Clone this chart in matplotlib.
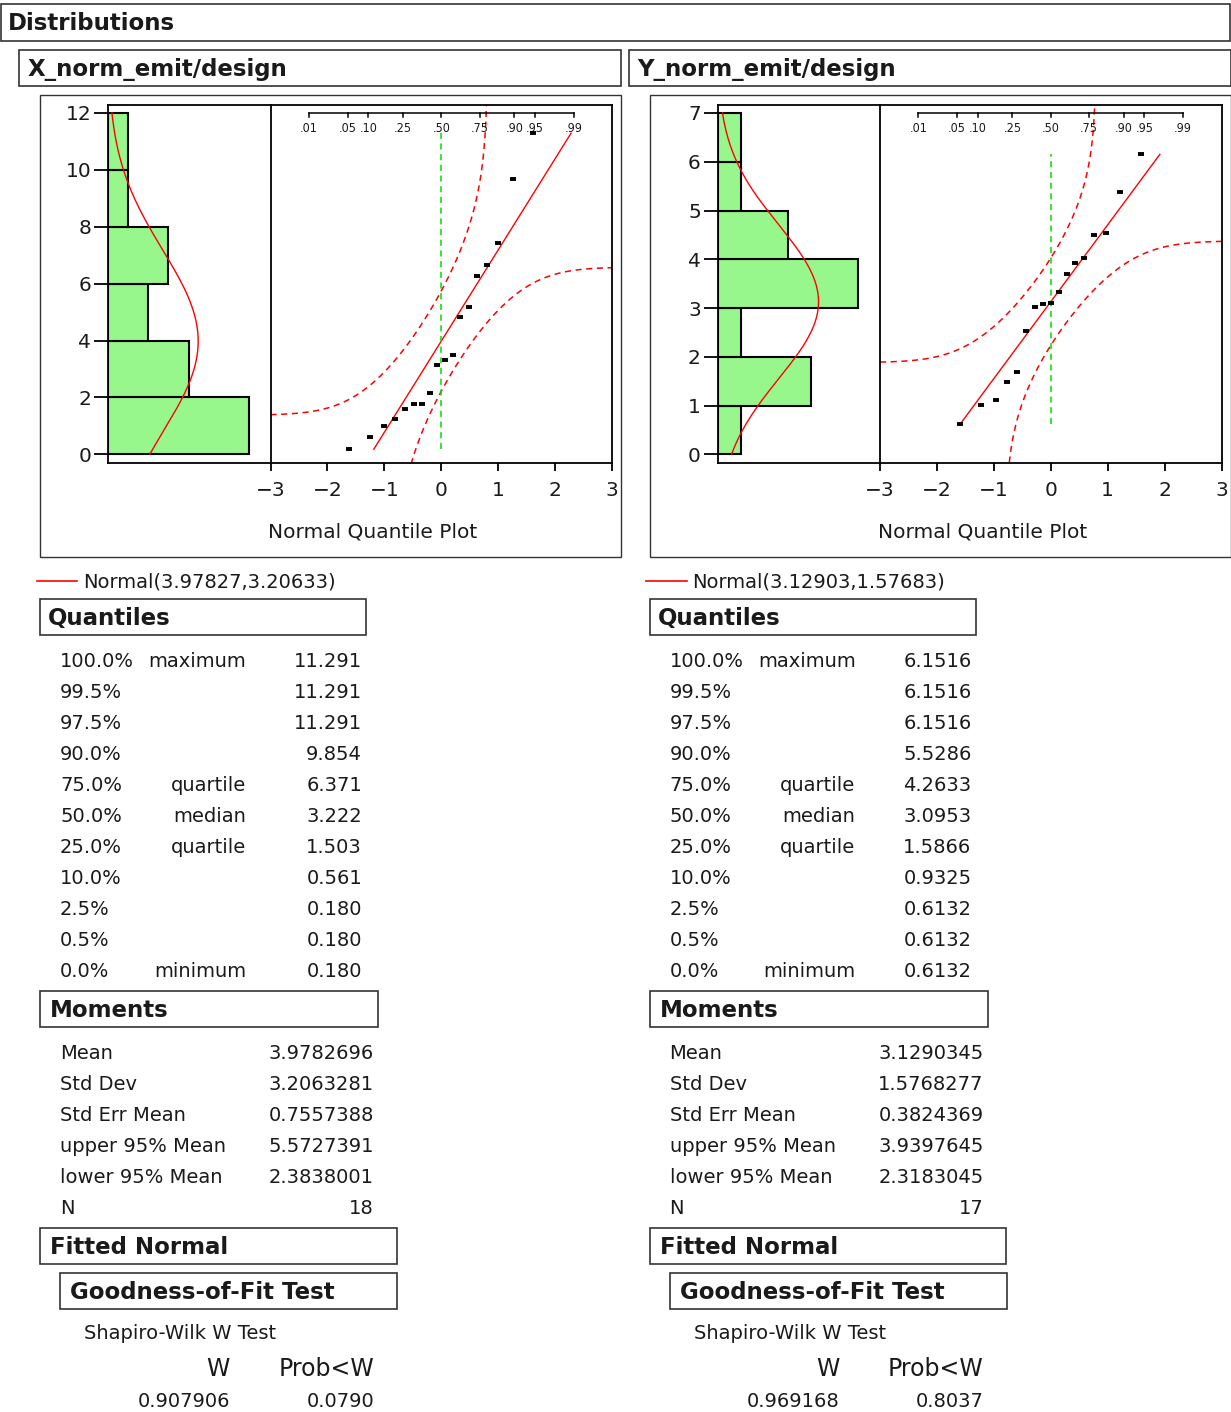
import numpy as np
import matplotlib
matplotlib.use('Agg')
import matplotlib.pyplot as plt
from matplotlib.patches import Rectangle
from matplotlib.lines import Line2D
from matplotlib.transforms import blended_transform_factory
from statistics import NormalDist

W, H = 1231, 1412
ND = NormalDist()

# ---------------- data ----------------
x_title = "X_norm_emit/design"
y_title = "Y_norm_emit/design"
x_values = [0.180, 0.603, 1.00, 1.25, 1.587, 1.78, 1.78, 2.14, 3.13, 3.314,
            3.49, 4.82, 5.19, 6.28, 6.644, 7.436, 9.694, 11.291]
y_values = [0.6132, 1.0123, 1.113, 1.490, 1.6832, 2.527, 3.025, 3.080, 3.0953,
            3.330, 3.700, 3.925, 4.019, 4.5076, 4.548, 5.3729, 6.1516]
x_bin_edges = [0, 2, 4, 6, 8, 10, 12]
y_bin_edges = [0, 1, 2, 3, 4, 5, 6, 7]
x_fit = (3.97827, 3.20633)
y_fit = (3.12903, 1.57683)
x_legend = "Normal(3.97827,3.20633)"
y_legend = "Normal(3.12903,1.57683)"
prob_ticks = [.01, .05, .10, .25, .50, .75, .90, .95, .99]
prob_labels = ['.01', '.05', '.10', '.25', '.50', '.75', '.90', '.95', '.99']
qq_ticks = [-3, -2, -1, 0, 1, 2, 3]
lilliefors_coef = 0.886

quantile_pct = ['100.0%', '99.5%', '97.5%', '90.0%', '75.0%', '50.0%',
                '25.0%', '10.0%', '2.5%', '0.5%', '0.0%']
quantile_names = ['maximum', '', '', '', 'quartile', 'median', 'quartile',
                  '', '', '', 'minimum']
x_quantiles = ['11.291', '11.291', '11.291', '9.854', '6.371', '3.222',
               '1.503', '0.561', '0.180', '0.180', '0.180']
y_quantiles = ['6.1516', '6.1516', '6.1516', '5.5286', '4.2633', '3.0953',
               '1.5866', '0.9325', '0.6132', '0.6132', '0.6132']
moment_names = ['Mean', 'Std Dev', 'Std Err Mean', 'upper 95% Mean',
                'lower 95% Mean', 'N']
x_moments = ['3.9782696', '3.2063281', '0.7557388', '5.5727391', '2.3838001', '18']
y_moments = ['3.1290345', '1.5768277', '0.3824369', '3.9397645', '2.3183045', '17']
x_sw = ('0.907906', '0.0790')
y_sw = ('0.969168', '0.8037')

# ---------------- styling ----------------
BAR_COLOR = '#98F78C'
RED = '#FF0000'
GREEN = '#00DD00'
TXT = '#1a1a1a'
FONT = 'DejaVu Sans'
plt.rcParams['font.family'] = [FONT]

fig = plt.figure(figsize=(W / 100, H / 100), dpi=100)
fig.patch.set_facecolor('white')


def fx(x):
    return x / W


def fy(y):
    return 1 - y / H


def box(x0, y0, x1, y1, lw=1.2, ec='#333333'):
    fig.add_artist(Rectangle((fx(x0), fy(y1)), (x1 - x0) / W, (y1 - y0) / H,
                             transform=fig.transFigure, fill=False,
                             edgecolor=ec, lw=lw, zorder=-5))


def text(x, y, s, ha='left', size=14, weight='normal', **kw):
    fig.text(fx(x), fy(y + 1.5), s, ha=ha, va='center', fontsize=size,
             fontweight=weight, color=TXT, **kw)


def add_axes(x0, y0, x1, y1):
    ax = fig.add_axes([fx(x0), fy(y1), (x1 - x0) / W, (y1 - y0) / H])
    ax.patch.set_alpha(0)
    ax.set_zorder(2)
    return ax


# top header
box(1, 4, 1230, 41)
text(8, 22, "Distributions", size=16.5, weight='bold')


def panel(dx, title, values, edges, fit, legend, quants, moments, sw):
    mu, sd = fit
    n = len(values)
    # header
    box(19 + dx, 50, 621 + dx, 86)
    text(28 + dx, 68, title, size=16.5, weight='bold')
    # frame
    box(40 + dx, 95, 621 + dx, 557, lw=1.0)

    ymax = edges[-1]
    # pixel layout: 0 at 454.3, ymax at 113, axes from 105 to 463.3
    ppu = (454.3 - 113) / ymax
    ylo = -(463.3 - 454.3) / ppu
    yhi = ymax + (113 - 105) / ppu

    # histogram
    counts, _ = np.histogram(values, bins=edges)
    axh = add_axes(108 + dx, 105, 270.5 + dx, 463.3)
    centers = [(edges[i] + edges[i + 1]) / 2 for i in range(len(edges) - 1)]
    widths = [edges[i + 1] - edges[i] for i in range(len(edges) - 1)]
    axh.barh(centers, counts, height=widths, left=0, color=BAR_COLOR,
             edgecolor='black', lw=1.5, zorder=2)
    yy = np.linspace(edges[0], ymax, 300)
    bw = widths[0]
    dens = [n * bw * NormalDist(mu, sd).pdf(v) for v in yy]
    axh.plot(dens, yy, color=RED, lw=1.0, zorder=3)
    axh.set_ylim(ylo, yhi)
    axh.set_xlim(0, max(counts) * (270 - 108) / (248.5 - 108))
    axh.set_yticks(range(0, ymax + 1, 2 if ymax > 8 else 1))
    axh.set_xticks([])
    axh.tick_params(axis='y', direction='out', length=10, width=1.3, pad=2,
                    labelsize=14.5, colors='black', labelcolor=TXT)
    for s in axh.spines.values():
        s.set_linewidth(1.3)
    axh.spines['right'].set_visible(False)

    # quantile plot
    axq = add_axes(270.5 + dx, 105, 612 + dx, 463.3)
    axq.set_xlim(-3, 3)
    axq.set_ylim(ylo, yhi)
    axq.set_yticks([])
    axq.set_xticks(qq_ticks)
    axq.tick_params(axis='x', direction='out', length=6, width=1.3, pad=7,
                    labelsize=14.5, labelcolor=TXT)
    for s in axq.spines.values():
        s.set_linewidth(1.3)
    sv = sorted(values)
    z = [ND.inv_cdf((i + 1) / (n + 1)) for i in range(n)]
    # bands
    D = lilliefors_coef / np.sqrt(n)
    zz = np.linspace(-3, 3, 1200)
    up_z, up_y, lo_z, lo_y = [], [], [], []
    for zv in zz:
        p = ND.cdf(zv)
        if p + D < 0.999999:
            up_z.append(zv)
            up_y.append(mu + sd * ND.inv_cdf(p + D))
        if p - D > 1e-6:
            lo_z.append(zv)
            lo_y.append(mu + sd * ND.inv_cdf(p - D))
    axq.plot(up_z, up_y, color=RED, lw=1.1, ls=(0, (4, 3)))
    axq.plot(lo_z, lo_y, color=RED, lw=1.1, ls=(0, (4, 3)))
    # fitted line
    zmin = (sv[0] - mu) / sd
    zmax = (sv[-1] - mu) / sd
    axq.plot([zmin, zmax], [mu + sd * zmin, mu + sd * zmax], color=RED, lw=1.0)
    # median reference
    axq.plot([0, 0], [sv[0], sv[-1]], color=GREEN, lw=1.1, ls=(0, (4, 3)))
    # points
    axq.plot(z, sv, ls='none', marker='_', ms=4.8, mew=2.8, color='black',
             zorder=5)
    # probability axis
    tr = blended_transform_factory(axq.transData, axq.transAxes)
    ay = (463.3 - 113) / (463.3 - 105)
    aty = (463.3 - 117) / (463.3 - 105)
    alab = (463.3 - 128) / (463.3 - 105)
    pz = [ND.inv_cdf(p) for p in prob_ticks]
    axq.plot([pz[0], pz[-1]], [ay, ay], transform=tr, color='black', lw=1.1,
             clip_on=False)
    for zv, lab in zip(pz, prob_labels):
        axq.plot([zv, zv], [ay, aty], transform=tr, color='black', lw=1.1,
                 clip_on=False)
        axq.text(zv, alab, lab, transform=tr, ha='center', va='center',
                 fontsize=9, fontstretch='condensed', color=TXT)

    text(373 + dx, 531, "Normal Quantile Plot", ha='center', size=14.5)

    # legend
    fig.add_artist(Line2D([fx(37 + dx), fx(77 + dx)], [fy(581), fy(581)],
                          color=RED, lw=1.2, transform=fig.transFigure))
    text(83 + dx, 581, legend, size=14)

    # Quantiles
    box(40 + dx, 599, 366 + dx, 635)
    text(48 + dx, 617, "Quantiles", size=16.5, weight='bold')
    for i, (pc, nm, val) in enumerate(zip(quantile_pct, quantile_names, quants)):
        yrow = 660 + 31 * i
        text(60 + dx, yrow, pc)
        if nm:
            text(246 + dx, yrow, nm, ha='right')
        text(362 + dx, yrow, val, ha='right')

    # Moments
    box(40 + dx, 991, 378 + dx, 1027)
    text(50 + dx, 1009, "Moments", size=16.5, weight='bold')
    for i, (nm, val) in enumerate(zip(moment_names, moments)):
        yrow = 1052 + 31 * i
        text(60 + dx, yrow, nm)
        text(374 + dx, yrow, val, ha='right')

    # Fitted normal
    box(40 + dx, 1228, 397 + dx, 1264)
    text(50 + dx, 1246, "Fitted Normal", size=16.5, weight='bold')
    box(60 + dx, 1273, 397 + dx, 1309)
    text(70 + dx, 1291, "Goodness-of-Fit Test", size=16.5, weight='bold')
    text(84 + dx, 1332, "Shapiro-Wilk W Test")
    text(230 + dx, 1367, "W", ha='right', size=17)
    text(374 + dx, 1367, "Prob<W", ha='right', size=17)
    text(230 + dx, 1400, sw[0], ha='right')
    text(374 + dx, 1400, sw[1], ha='right')


panel(0, x_title, x_values, x_bin_edges, x_fit, x_legend, x_quantiles,
      x_moments, x_sw)
panel(609.5, y_title, y_values, y_bin_edges, y_fit, y_legend, y_quantiles,
      y_moments, y_sw)

fig.savefig('out.png', dpi=100)
